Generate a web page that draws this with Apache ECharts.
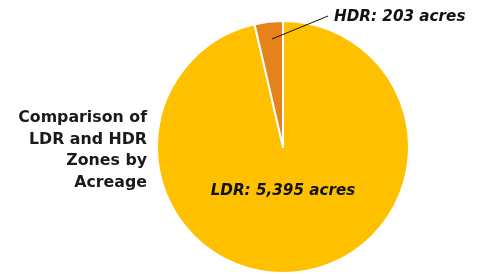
<!DOCTYPE html>
<html><head><meta charset="utf-8">
<script src="https://cdn.jsdelivr.net/npm/echarts@6/dist/echarts.min.js"></script>
<style>html,body{margin:0;padding:0;background:#fff}#c{width:478px;height:274px}</style>
</head><body><div id="c"></div>
<script>
const categories = ['LDR', 'HDR'];
const acres = [5395, 203];
const colors = ['#FFC000', '#E5821A'];
const titleLines = ['Comparison of', 'LDR and HDR', 'Zones by', 'Acreage'];

const chart = echarts.init(document.getElementById('c'));
const fmt = n => n.toLocaleString('en-US');
const FONT = 'DejaVu Sans';
chart.setOption({
  animation: false,
  graphic: [{
    type: 'text', x: 147, y: 107,
    style: {
      text: titleLines.join('\n'), align: 'right', verticalAlign: 'top',
      font: 'bold 15.8px "' + FONT + '"', lineHeight: 21.7, fill: '#1a1a1a'
    }
  }, {
    type: 'polyline', z: 100,
    shape: {points: [[272, 39], [328, 16]]},
    style: {stroke: '#111', lineWidth: 1, fill: null}
  }],
  series: [{
    type: 'pie',
    center: [283, 147], radius: [0, 126],
    startAngle: 90, clockwise: true,
    itemStyle: {borderColor: '#fff', borderWidth: 2},
    data: categories.map((c, i) => ({
      name: c, value: acres[i],
      itemStyle: {color: colors[i]},
      label: {
        show: true,
        position: i === 0 ? 'inside' : 'outside',
        formatter: c + ': ' + fmt(acres[i]) + ' acres',
        fontFamily: FONT, fontWeight: 'bold', fontStyle: 'italic', fontSize: 15.2, color: '#111'
      },
      labelLine: {show: false}
    })),
    labelLayout: function (p) {
      if (p.dataIndex === 0) return {x: 283, y: 191, align: 'center', verticalAlign: 'middle'};
      return {x: 334, y: 17, align: 'left', verticalAlign: 'middle'};
    }
  }]
});
</script></body></html>
